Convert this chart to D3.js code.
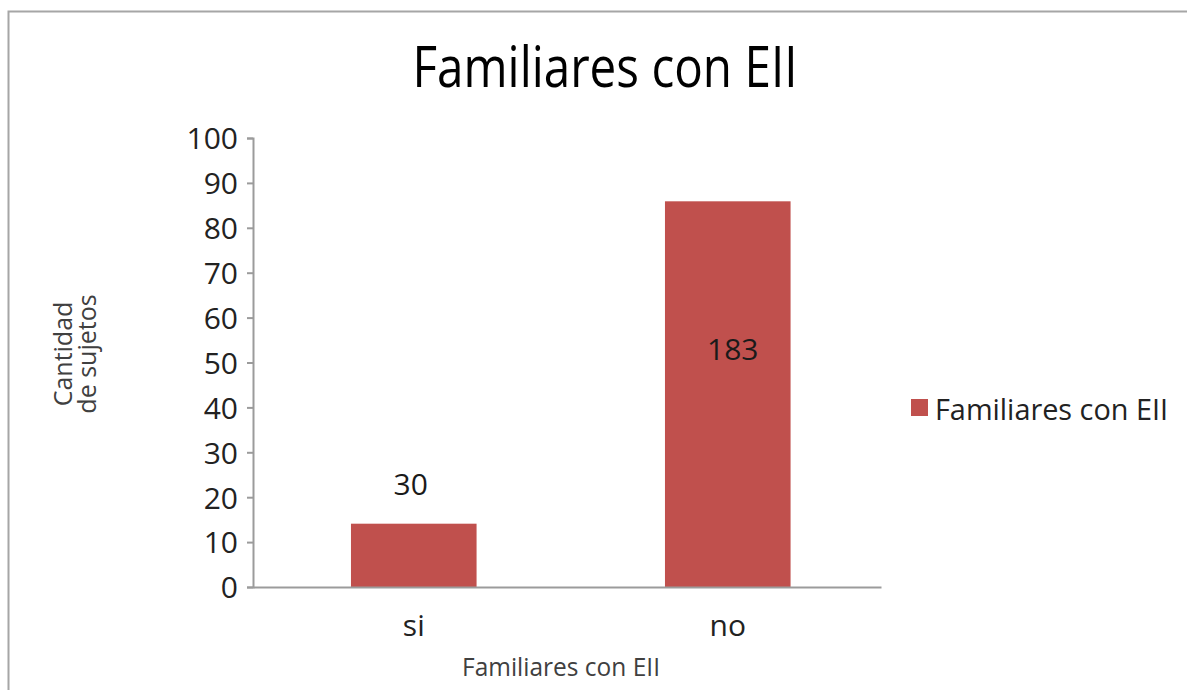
<!DOCTYPE html>
<html><head><meta charset="utf-8">
<script src="https://cdn.jsdelivr.net/npm/d3@7"></script>
<style>html,body{margin:0;padding:0;background:#fff;}svg{display:block;}</style>
</head><body>
<script>
const categories = ["si", "no"];
const percentValues = [14.1, 85.9];
const labelValues = ["30", "183"];
const yTicks = [0, 10, 20, 30, 40, 50, 60, 70, 80, 90, 100];
const chartTitle = "Familiares con EII";
const xTitle = "Familiares con EII";
const yTitleLines = ["Cantidad", "de sujetos"];
const legendLabel = "Familiares con EII";

const W = 1187, H = 690;
const font = "'Open Sans', 'Noto Sans', sans-serif";
const barColor = "#C0504D";
const axisColor = "#9b9b9b";

const svg = d3.select("body").append("svg").attr("width", W).attr("height", H);

// outer frame
svg.append("rect").attr("x", 8.5).attr("y", 11.5).attr("width", W + 20).attr("height", H + 20)
  .attr("fill", "none").attr("stroke", "#a6a6a6").attr("stroke-width", 2);

const x = d3.scaleBand().domain(categories).range([253, 881])
  .paddingInner(0.6).paddingOuter(0.3).align(0.52);
const y = d3.scaleLinear().domain([0, 100]).range([587, 138]);

// title
svg.append("text").attr("x", 605).attr("y", 87).attr("text-anchor", "middle")
  .attr("font-family", font).attr("font-size", 57).attr("fill", "#000")
  .attr("textLength", 385).attr("lengthAdjust", "spacingAndGlyphs")
  .text(chartTitle);

// bars
const data = categories.map((c, i) => ({c, v: percentValues[i], l: labelValues[i]}));
svg.selectAll("rect.bar").data(data).join("rect").attr("class", "bar")
  .attr("x", d => x(d.c)).attr("width", x.bandwidth())
  .attr("y", d => y(d.v)).attr("height", d => y(0) - y(d.v))
  .attr("fill", barColor);

// y axis
const yAxis = svg.append("g").attr("transform", "translate(253,0)")
  .call(d3.axisLeft(y).tickValues(yTicks).tickSize(6).tickPadding(9).tickSizeOuter(6));
yAxis.select(".domain").attr("stroke", axisColor).attr("stroke-width", 2);
yAxis.selectAll(".tick line").attr("stroke", axisColor).attr("stroke-width", 2);
yAxis.selectAll(".tick text").attr("font-family", font).attr("font-size", 30)
  .attr("fill", "#222").attr("dy", "0.36em");

// x axis
const xAxis = svg.append("g").attr("transform", "translate(0,587)")
  .call(d3.axisBottom(x).tickSize(0).tickPadding(28));
xAxis.select(".domain").attr("stroke", axisColor).attr("stroke-width", 2);
xAxis.selectAll(".tick text").attr("font-family", font).attr("font-size", 30)
  .attr("fill", "#222").attr("dy", "0.71em");

// data labels
svg.selectAll("text.lbl").data(data).join("text").attr("class", "lbl")
  .attr("x", d => x(d.c) + x.bandwidth() / 2 + (d.v > 50 ? 5 : -3))
  .attr("y", d => d.v > 50 ? y(d.v / 2 + 7.5) : y(d.v) - 29)
  .attr("text-anchor", "middle").attr("font-family", font).attr("font-size", 30)
  .attr("fill", "#1a1a1a").text(d => d.l);

// x title
svg.append("text").attr("x", 561).attr("y", 676).attr("text-anchor", "middle")
  .attr("font-family", font).attr("font-size", 26).attr("fill", "#404040")
  .attr("textLength", 198).attr("lengthAdjust", "spacingAndGlyphs")
  .text(xTitle);

// y title
const yt = svg.append("text").attr("transform", "translate(72,354) rotate(-90)")
  .attr("text-anchor", "middle").attr("font-family", font).attr("font-size", 25).attr("fill", "#404040");
yTitleLines.forEach((t, i) => yt.append("tspan").attr("x", 0).attr("y", i * 24).text(t));

// legend
const lg = svg.append("g").attr("transform", "translate(911,399)");
lg.append("rect").attr("width", 17).attr("height", 17).attr("fill", barColor);
lg.append("text").attr("x", 24).attr("y", 21).attr("font-family", font).attr("font-size", 29)
  .attr("fill", "#222").attr("textLength", 233).attr("lengthAdjust", "spacingAndGlyphs")
  .text(legendLabel);
</script>
</body></html>
